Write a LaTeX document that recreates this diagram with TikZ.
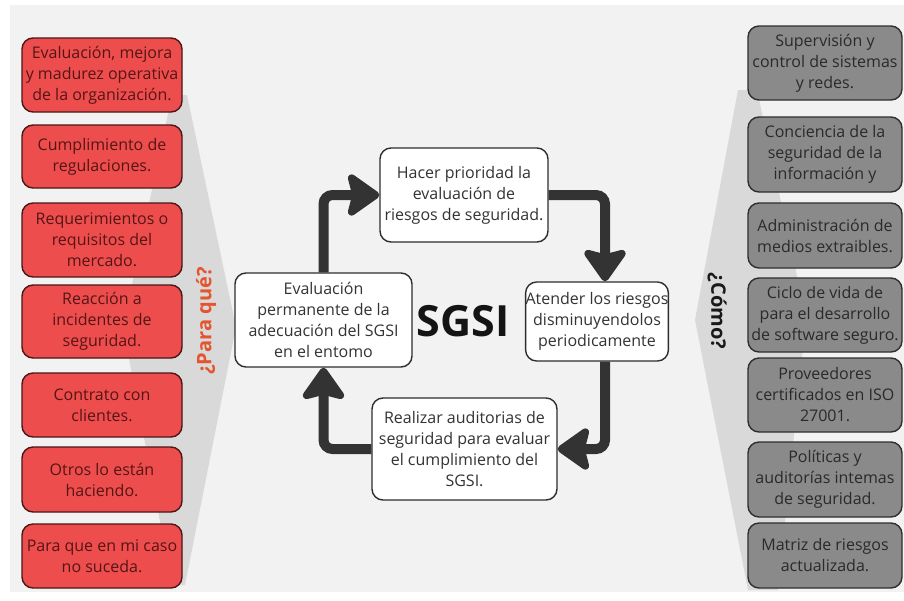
\documentclass[tikz,border=0pt]{standalone}
\usepackage{fontspec}
\setmainfont{Open Sans}
\usetikzlibrary{arrows.meta,calc}

\definecolor{pagebg}{HTML}{F2F2F2}
\definecolor{wedge}{HTML}{D9D9D9}
\definecolor{redfill}{HTML}{EE4D4D}
\definecolor{redline}{HTML}{4A1616}
\definecolor{redtext}{HTML}{551515}
\definecolor{grayfill}{HTML}{8A8A8A}
\definecolor{grayline}{HTML}{2E2E2E}
\definecolor{graytext}{HTML}{2A2A2A}
\definecolor{flow}{HTML}{333333}
\definecolor{whyorange}{HTML}{E4552F}

\tikzset{
  basebox/.style={rounded corners=11pt, line width=1.4pt, align=center,
    inner sep=0pt, font=\fontsize{16}{21}\selectfont},
  whybox/.style={basebox, draw=redline, fill=redfill, text=redtext,
    minimum width=160pt},
  howbox/.style={basebox, draw=grayline, fill=grayfill, text=graytext,
    minimum width=154pt},
  cyclebox/.style={basebox, draw=flow!90!black, fill=white, text=flow},
  cyclearrow/.style={draw=flow, line width=10pt, rounded corners=9pt,
    -{Stealth[length=36pt,width=50pt,inset=6pt,round]}},
  sidelabel/.style={font=\fontsize{20}{22}\selectfont\bfseries}
}

\begin{document}
\begin{tikzpicture}[x=1pt,y=-1pt]
\useasboundingbox (0,0) rectangle (904,600);
\fill[white] (0,0) rectangle (904,600);
\fill[pagebg] (10,5) rectangle (904,592);

% folded wedges behind the two columns
\fill[wedge] (172,95) -- (187,95) -- (236,327) -- (185,585) -- (172,585) -- (123,327) -- cycle;
\fill[wedge] (738,90) -- (757,90) -- (806,318) -- (778,590) -- (748,590) -- (695,320) -- cycle;

% left column: reasons
\node[whybox, minimum height=74pt] (w1) at (102,75)    {Evaluación, mejora\\y madurez operativa\\de la organización.};
\node[whybox, minimum height=63pt] (w2) at (102,156.5) {Cumplimiento de\\regulaciones.};
\node[whybox, minimum height=74pt] (w3) at (102,240)   {Requerimientos o\\requisitos del\\mercado.};
\node[whybox, minimum height=73pt] (w4) at (102,321.5) {Reacción a\\incidentes de\\seguridad.};
\node[whybox, minimum height=64pt] (w5) at (102,405)   {Contrato con\\clientes.};
\node[whybox, minimum height=65pt] (w6) at (102,479.5) {Otros lo están\\haciendo.};
\node[whybox, minimum height=64pt] (w7) at (102,556)   {Para que en mi caso\\no suceda.};

% right column: measures
\node[howbox, minimum height=74pt] (h1) at (825,63)    {Supervisión y\\control de sistemas\\y redes.};
\node[howbox, minimum height=75pt] (h2) at (825,154.5) {Conciencia de la\\seguridad de la\\información y};
\node[howbox, minimum height=65pt] (h3) at (825,235.5) {Administración de\\medios extraibles.};
\node[howbox, minimum height=74pt] (h4) at (825,315)   {Ciclo de vida de\\para el desarrollo\\de software seguro.};
\node[howbox, minimum height=74pt] (h5) at (825,395)   {Proveedores\\certificados en ISO\\27001.};
\node[howbox, minimum height=75pt] (h6) at (825,479.5) {Políticas y\\auditorías intemas\\de seguridad.};
\node[howbox, minimum height=65pt] (h7) at (825,555.5) {Matriz de riesgos\\actualizada.};

% column headings
\node[sidelabel, text=whyorange, rotate=90] (why) at (206,321) {¿Para qué?};
\node[sidelabel, text=black!90, rotate=-90] (how) at (717,311) {¿Cómo?};

% the cycle
\node[cyclebox, minimum width=168pt, minimum height=94pt]  (top)    at (464,195)   {Hacer prioridad la\\evaluación de\\riesgos de seguridad.};
\node[cyclebox, minimum width=177pt, minimum height=94pt]  (left)   at (323.5,320) {Evaluación\\permanente de la\\adecuación del SGSI\\en el entomo};
\node[cyclebox, minimum width=140pt, minimum height=79pt]  (right)  at (597,321.5) {Atender los riesgos\\disminuyendolos\\periodicamente};
\node[cyclebox, minimum width=185pt, minimum height=102pt] (bottom) at (464.5,449) {Realizar auditorias de\\seguridad para evaluar\\el cumplimiento del\\SGSI.};

\node[font=\fontsize{43}{46}\selectfont\bfseries, text=black!92] (sgsi) at (463,321) {SGSI};

\coordinate (rtop) at ($(right.north)+(8,0)$);
\coordinate (rbot) at ($(right.south)+(8,0)$);

\draw[cyclearrow] (left.north) |- (top.west);
\draw[cyclearrow] (top.east) -| (rtop);
\draw[cyclearrow] (rbot) |- (bottom.east);
\draw[cyclearrow] (bottom.west) -| (left.south);
\end{tikzpicture}
\end{document}
